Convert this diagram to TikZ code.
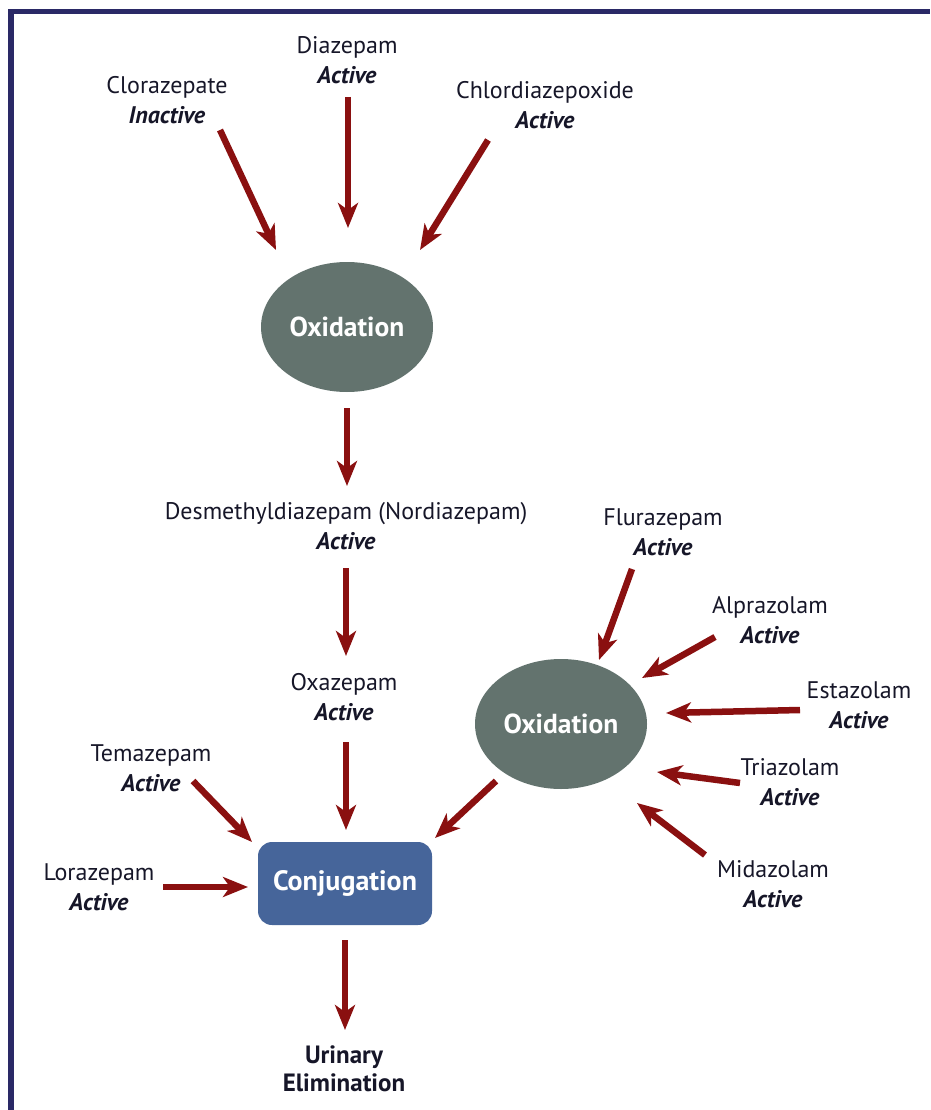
\documentclass[tikz,border=0pt]{standalone}
\usepackage{fontspec}
\setmainfont{PT Sans}
\usetikzlibrary{arrows.meta,shapes.geometric}
\definecolor{framec}{HTML}{2A2966}
\definecolor{arrc}{HTML}{8A1010}
\definecolor{oxc}{HTML}{63736E}
\definecolor{conjc}{HTML}{46659A}
\definecolor{txtc}{HTML}{161628}
\newcommand\actv{\textbf{\textit{Active}}}
\begin{document}
\begin{tikzpicture}[x=1pt,y=-1pt,
  lbl/.style={font=\fontsize{24}{30}\selectfont, text=txtc, align=center, inner sep=0pt},
  oxnode/.style={ellipse, fill=oxc, minimum width=172pt, minimum height=130pt, inner sep=0pt,
    text=white, font=\fontsize{27.5}{30}\selectfont\bfseries},
  conjnode/.style={rectangle, rounded corners=14pt, fill=conjc, minimum width=174pt, minimum height=83pt,
    inner sep=0pt, text=white, font=\fontsize{28}{30}\selectfont\bfseries},
  arr/.style={draw=arrc, line width=6.5pt, -{Stealth[length=25pt,width=20pt,inset=7pt]}}]
\useasboundingbox (0,0) rectangle (930,1110);
% frame
\fill[framec] (8,9) rectangle (930,14.5);
\fill[framec] (8,9) rectangle (13.5,1110);

% nodes
\node[lbl] (clor) at (167,100) {Clorazepate\\\textbf{\textit{Inactive}}};
\node[lbl] (diaz) at (347,60) {Diazepam\\\actv};
\node[lbl] (chlor) at (545,105) {Chlordiazepoxide\\\actv};
\node[oxnode] (ox1) at (347,327) {Oxidation};
\node[lbl] (desm) at (346,526) {Desmethyldiazepam (Nordiazepam)\\\actv};
\node[lbl] (oxaz) at (344,697) {Oxazepam\\\actv};
\node[lbl] (tema) at (151,768) {Temazepam\\\actv};
\node[lbl] (lora) at (99,887) {Lorazepam\\\actv};
\node[conjnode] (conj) at (345,883.5) {Conjugation};
\node[lbl, font=\fontsize{25}{28}\selectfont\bfseries] (urin) at (344,1069) {Urinary\\Elimination};
\node[oxnode] (ox2) at (561,724) {Oxidation};
\node[lbl] (flur) at (663,532) {Flurazepam\\\actv};
\node[lbl] (alpr) at (770,620) {Alprazolam\\\actv};
\node[lbl] (esta) at (859,705) {Estazolam\\\actv};
\node[lbl] (tria) at (790,782) {Triazolam\\\actv};
\node[lbl] (mida) at (773,884) {Midazolam\\\actv};

% arrow end points
\coordinate (c1s) at (220,130); \coordinate (c1e) at (276,250);
\coordinate (d1s) at (348,97);  \coordinate (d1e) at (348,228);
\coordinate (h1s) at (488,140); \coordinate (h1e) at (420,250);
\coordinate (o1s) at (347,408); \coordinate (o1e) at (347,486);
\coordinate (m1s) at (346,568); \coordinate (m1e) at (346,656);
\coordinate (z1s) at (346,742); \coordinate (z1e) at (346,830);
\coordinate (t1s) at (193,781); \coordinate (t1e) at (252,842);
\coordinate (l1s) at (163,887); \coordinate (l1e) at (248,887);
\coordinate (j1s) at (345,940); \coordinate (j1e) at (345,1030);
\coordinate (x2s) at (496,781); \coordinate (x2e) at (435,838);
\coordinate (f1s) at (632,569); \coordinate (f1e) at (599,660);
\coordinate (a1s) at (715,637); \coordinate (a1e) at (642,678);
\coordinate (e1s) at (800,710); \coordinate (e1e) at (666,713);
\coordinate (r1s) at (740,783); \coordinate (r1e) at (657,772);
\coordinate (i1s) at (705,855); \coordinate (i1e) at (637,803);

% arrows
\draw[arr] (c1s) -- (c1e);
\draw[arr] (d1s) -- (d1e);
\draw[arr] (h1s) -- (h1e);
\draw[arr] (o1s) -- (o1e);
\draw[arr] (m1s) -- (m1e);
\draw[arr] (z1s) -- (z1e);
\draw[arr] (t1s) -- (t1e);
\draw[arr] (l1s) -- (l1e);
\draw[arr] (j1s) -- (j1e);
\draw[arr] (x2s) -- (x2e);
\draw[arr] (f1s) -- (f1e);
\draw[arr] (a1s) -- (a1e);
\draw[arr] (e1s) -- (e1e);
\draw[arr] (r1s) -- (r1e);
\draw[arr] (i1s) -- (i1e);
\end{tikzpicture}
\end{document}
